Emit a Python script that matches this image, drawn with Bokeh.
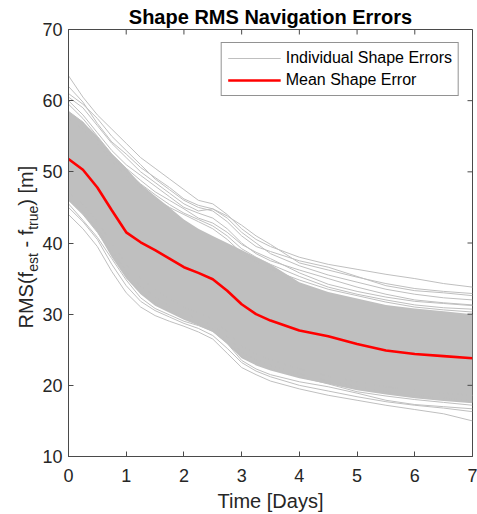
from math import pi
from bokeh.plotting import figure
from bokeh.layouts import row
from bokeh.models import Range1d, FixedTicker, Legend, LegendItem
from bokeh.core.properties import value
from bokeh.embed import file_html
from bokeh.resources import INLINE

# ---------------- data ----------------
days = [0, 0.25, 0.5, 0.75, 1, 1.25, 1.5, 1.75, 2, 2.25, 2.5, 2.75,
        3, 3.25, 3.5, 4, 4.5, 5, 5.5, 6, 6.5, 7]

mean_error = [51.8, 50.3, 47.8, 44.6, 41.5, 40.1, 39.0, 37.8, 36.6, 35.8, 34.9, 33.3,
              31.4, 30.0, 29.1, 27.7, 26.9, 25.8, 24.9, 24.4, 24.1, 23.8]

# dense core of the individual-shape cloud
band_upper = [58.5, 57.0, 55.0, 52.5, 50.5, 48.3, 46.6, 45.0, 43.3, 42.0, 41.0, 40.0,
              39.0, 38.0, 37.0, 34.5, 33.1, 32.2, 31.3, 30.8, 30.4, 30.0]
band_lower = [46.0, 44.0, 41.5, 38.0, 35.0, 32.8, 31.2, 30.2, 29.2, 28.4, 27.5, 25.8,
              23.8, 22.8, 22.1, 21.0, 20.2, 19.3, 18.7, 18.2, 17.8, 17.5]

# individual shape error curves (visible ones at the edges of the cloud)
shape_u1 = [63.5, 60.5, 58.0, 56.0, 54.0, 52.0, 50.5, 49.0, 47.5, 46.0, 45.5, 44.0,
            42.0, 40.5, 39.5, 38.0, 37.0, 36.3, 35.6, 35.0, 34.3, 33.8]
shape_u2 = [61.0, 59.5, 57.5, 55.0, 53.0, 51.0, 49.0, 47.5, 46.0, 45.0, 44.5, 43.0,
            41.0, 39.5, 38.8, 37.5, 36.6, 35.3, 34.0, 33.3, 33.0, 32.6]
shape_u3 = [60.5, 59.0, 56.5, 54.0, 52.0, 50.0, 48.5, 47.0, 45.5, 44.5, 44.8, 43.5,
            41.5, 40.0, 38.5, 36.8, 35.5, 34.5, 33.5, 32.8, 32.3, 32.0]
shape_u4 = [60.0, 58.0, 55.5, 53.0, 51.0, 49.5, 48.0, 46.5, 45.0, 44.2, 43.5, 42.0,
            40.0, 38.5, 37.5, 36.2, 35.0, 33.8, 32.8, 32.0, 31.6, 31.3]
shape_u5 = [59.5, 57.5, 55.0, 52.5, 50.5, 48.8, 47.2, 46.0, 44.8, 43.5, 42.8, 41.5,
            39.8, 38.7, 37.8, 35.8, 34.2, 33.2, 32.4, 31.8, 31.5, 31.2]
shape_u6 = [58.5, 57.0, 54.5, 52.0, 50.0, 48.3, 46.8, 45.4, 44.2, 43.3, 42.4, 41.0,
            39.2, 38.0, 37.0, 35.3, 33.8, 32.8, 32.0, 31.3, 30.9, 30.7]
shape_u7 = [62.0, 59.8, 56.8, 54.2, 52.5, 50.6, 49.2, 47.8, 46.2, 45.3, 44.8, 43.8,
            42.5, 41.0, 39.8, 37.2, 36.2, 35.2, 34.3, 33.6, 33.2, 32.9]
shape_u8 = [57.5, 56.0, 54.0, 51.5, 49.5, 47.8, 46.2, 45.0, 44.0, 43.0, 42.0, 40.5,
            38.6, 37.4, 36.3, 34.8, 33.5, 32.6, 31.7, 31.0, 30.6, 30.3]
shape_l1 = [44.0, 42.0, 39.5, 36.0, 33.0, 31.0, 29.8, 29.0, 28.3, 27.5, 26.5, 24.5,
            22.5, 21.5, 20.6, 19.5, 18.6, 17.9, 17.2, 16.6, 16.0, 15.0]
shape_l2 = [45.0, 43.0, 40.5, 37.0, 34.0, 31.8, 30.5, 29.6, 28.7, 28.0, 27.0, 25.2,
            23.2, 22.0, 21.2, 20.0, 19.2, 18.4, 17.7, 17.2, 16.8, 16.3]
shape_l3 = [46.0, 44.0, 41.5, 38.5, 35.5, 33.0, 31.5, 30.4, 29.5, 28.8, 27.9, 26.2,
            24.0, 23.0, 22.3, 21.2, 20.2, 19.1, 18.5, 18.0, 17.6, 17.2]
shape_l4 = [46.5, 44.5, 42.0, 39.0, 36.0, 34.0, 32.5, 31.2, 30.2, 29.3, 28.5, 26.8,
            24.7, 23.6, 22.8, 21.6, 20.6, 19.8, 19.1, 18.6, 18.2, 17.8]
shape_l5 = [47.0, 45.5, 43.0, 40.0, 37.0, 35.0, 33.5, 32.2, 31.0, 30.2, 29.3, 27.5,
            25.5, 24.4, 23.6, 22.3, 21.3, 20.5, 19.8, 19.3, 18.9, 18.6]
shape_l6 = [45.5, 43.2, 40.8, 37.8, 34.8, 32.3, 30.8, 29.9, 29.0, 28.4, 27.6, 25.9,
            23.5, 22.3, 21.5, 20.5, 19.8, 18.9, 17.9, 17.3, 17.0, 16.7]

shapes = [shape_u1, shape_u2, shape_u3, shape_u4, shape_u5, shape_u6, shape_u7, shape_u8,
          shape_l1, shape_l2, shape_l3, shape_l4, shape_l5, shape_l6]

x_ticks = [0, 1, 2, 3, 4, 5, 6, 7]
y_ticks = [10, 20, 30, 40, 50, 60, 70]
x_min, x_max = 0, 7
y_min, y_max = 10, 70

# ---------------- styling ----------------
FONT = "Liberation Sans"
AX = "#4a4a4a"
TXT = "#262626"
GRAY = "#bfbfbf"
H = 514
LEFT_W = 39

p = figure(width=477 - LEFT_W, height=H, x_range=Range1d(x_min, x_max), y_range=Range1d(y_min, y_max),
           output_backend="svg", toolbar_location=None,
           min_border_left=28, min_border_right=5, min_border_top=29, min_border_bottom=58)
p.xgrid.visible = False
p.ygrid.visible = False
p.outline_line_color = AX
p.background_fill_color = "white"
p.border_fill_color = "white"

p.title.text = "Shape RMS Navigation Errors"
p.title.align = "center"
p.title.text_font = FONT
p.title.text_font_size = "20px"
p.title.text_font_style = "bold"
p.title.text_color = "black"
p.title.standoff = 3
p.title.offset = 0

# cloud core
p.varea(x=days, y1=band_lower, y2=band_upper, fill_color=GRAY, fill_alpha=1.0)

shape_renderers = []
for s in shapes:
    r = p.line(days, s, line_color=GRAY, line_width=1)
    shape_renderers.append(r)

mean_r = p.line(days, mean_error, line_color="#ff0000", line_width=2.6)

# inward ticks on the top and right edges of the box (MATLAB style)
p.ray(x=x_ticks, y=[y_max] * len(x_ticks), length=5, length_units="screen",
      angle=-pi / 2, line_color=AX, line_width=1)
p.ray(x=[x_max] * len(y_ticks), y=y_ticks, length=5, length_units="screen",
      angle=pi, line_color=AX, line_width=1)

xax = p.below[0]
yax = p.left[0]
for ax, ticks in [(xax, x_ticks), (yax, y_ticks)]:
    ax.ticker = FixedTicker(ticks=ticks)
    ax.major_tick_in = 5
    ax.major_tick_out = 0
    ax.minor_tick_line_color = None
    ax.axis_line_color = AX
    ax.major_tick_line_color = AX
    ax.major_label_text_font = FONT
    ax.major_label_text_font_size = "18px"
    ax.major_label_text_color = TXT

yax.major_label_standoff = 6
xax.major_label_standoff = 12
xax.axis_label = "Time [Days]"
xax.axis_label_text_font = FONT
xax.axis_label_text_font_size = "20px"
xax.axis_label_text_font_style = "normal"
xax.axis_label_text_color = TXT
xax.axis_label_standoff = 5

legend = Legend(items=[LegendItem(label="Individual Shape Errors", renderers=[shape_renderers[0]]),
                       LegendItem(label="Mean Shape Error", renderers=[mean_r])],
                location="top_right")
legend.margin = 13
legend.padding = 6
legend.spacing = 4
legend.glyph_width = 53
legend.glyph_height = 18
legend.label_height = 18
legend.label_standoff = 5
legend.label_text_font = FONT
legend.label_text_font_size = "16px"
legend.label_text_color = "black"
legend.border_line_color = TXT
legend.border_line_width = 1
legend.background_fill_color = "white"
legend.background_fill_alpha = 1.0
p.add_layout(legend)

# ---------------- y-axis label with subscripts (narrow strip figure) ----------------
# The row aligns this strip's frame with the main frame vertically, so the
# strip's y coordinate is pixels above the main frame's bottom edge.
FRAME_H = 456 - 29
lab = figure(width=LEFT_W, height=H, x_range=Range1d(0, LEFT_W), y_range=Range1d(0, FRAME_H),
             output_backend="svg", toolbar_location=None,
             x_axis_type=None, y_axis_type=None,
             min_border_left=0, min_border_right=0, min_border_top=0, min_border_bottom=0)
lab.title.visible = False
lab.xgrid.visible = False
lab.ygrid.visible = False
lab.outline_line_color = None
lab.background_fill_color = "white"
lab.border_fill_color = "white"

y_start = 456 - 328.0
main_x, sub_x = 25, 32
main_txt = ["RMS(f", "- f", ") [m]"]
main_off = [0.0, 81.0, 122.8]
sub_txt = ["est", "true"]
sub_off = [56.7, 98.7]

lab.text(x=[main_x] * 3, y=[y_start + o for o in main_off], text=main_txt, angle=pi / 2,
         text_font=value(FONT), text_font_size="20px", text_color=TXT,
         text_align="left", text_baseline="alphabetic")
lab.text(x=[sub_x] * 2, y=[y_start + o for o in sub_off], text=sub_txt, angle=pi / 2,
         text_font=value(FONT), text_font_size="14px", text_color=TXT,
         text_align="left", text_baseline="alphabetic")

layout = row(lab, p, spacing=0)
open("out.html", "w").write(file_html(layout, INLINE))
